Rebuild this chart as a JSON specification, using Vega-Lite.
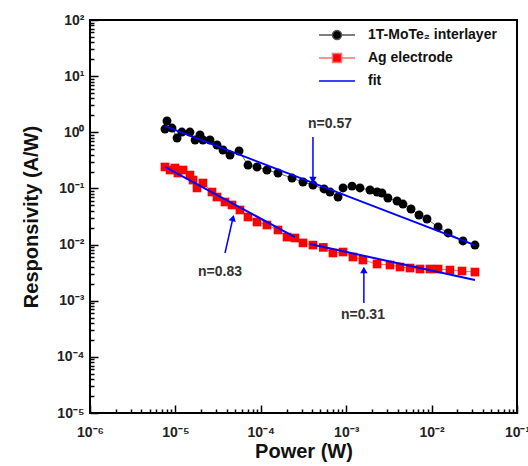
{
  "$schema": "https://vega.github.io/schema/vega-lite/v6.json",
  "width": 427,
  "height": 393,
  "autosize": {"type": "none"},
  "padding": {"left": 90, "top": 20, "right": 11, "bottom": 53},
  "background": "white",
  "config": {
    "view": {"stroke": "black", "strokeWidth": 2},
    "font": "Liberation Sans",
    "axis": {
      "domain": false, "tickColor": "black", "tickWidth": 1.5,
      "labelFont": "Liberation Sans", "labelFontWeight": "bold", "labelFontSize": 14, "labelColor": "#222",
      "titleFont": "Liberation Sans", "titleFontWeight": "bold", "titleFontSize": 20, "titleColor": "#111",
      "grid": false, "labelOverlap": false, "labelFlush": false
    }
  },
  "resolve": {"axis": {"x": "independent", "y": "independent"}},
  "datasets": {
    "meas": [
      {"series": "1T-MoTe₂ interlayer", "power": 7.55e-6, "resp": 1.14},
      {"series": "1T-MoTe₂ interlayer", "power": 7.97e-6, "resp": 1.59},
      {"series": "1T-MoTe₂ interlayer", "power": 9.12e-6, "resp": 1.19},
      {"series": "1T-MoTe₂ interlayer", "power": 1.045e-5, "resp": 0.791},
      {"series": "1T-MoTe₂ interlayer", "power": 1.19e-5, "resp": 1.01},
      {"series": "1T-MoTe₂ interlayer", "power": 1.48e-5, "resp": 1.01},
      {"series": "1T-MoTe₂ interlayer", "power": 1.70e-5, "resp": 0.728},
      {"series": "1T-MoTe₂ interlayer", "power": 1.94e-5, "resp": 0.895},
      {"series": "1T-MoTe₂ interlayer", "power": 2.10e-5, "resp": 0.728},
      {"series": "1T-MoTe₂ interlayer", "power": 2.54e-5, "resp": 0.728},
      {"series": "1T-MoTe₂ interlayer", "power": 3.07e-5, "resp": 0.593},
      {"series": "1T-MoTe₂ interlayer", "power": 3.61e-5, "resp": 0.483},
      {"series": "1T-MoTe₂ interlayer", "power": 4.36e-5, "resp": 0.394},
      {"series": "1T-MoTe₂ interlayer", "power": 5.56e-5, "resp": 0.464},
      {"series": "1T-MoTe₂ interlayer", "power": 7.08e-5, "resp": 0.261},
      {"series": "1T-MoTe₂ interlayer", "power": 9.03e-5, "resp": 0.241},
      {"series": "1T-MoTe₂ interlayer", "power": 1.18e-4, "resp": 0.213},
      {"series": "1T-MoTe₂ interlayer", "power": 1.59e-4, "resp": 0.188},
      {"series": "1T-MoTe₂ interlayer", "power": 2.32e-4, "resp": 0.153},
      {"series": "1T-MoTe₂ interlayer", "power": 3.12e-4, "resp": 0.130},
      {"series": "1T-MoTe₂ interlayer", "power": 4.08e-4, "resp": 0.115},
      {"series": "1T-MoTe₂ interlayer", "power": 5.5e-4, "resp": 0.098},
      {"series": "1T-MoTe₂ interlayer", "power": 6.46e-4, "resp": 0.0863},
      {"series": "1T-MoTe₂ interlayer", "power": 8.02e-4, "resp": 0.0703},
      {"series": "1T-MoTe₂ interlayer", "power": 9.18e-4, "resp": 0.102},
      {"series": "1T-MoTe₂ interlayer", "power": 1.17e-3, "resp": 0.110},
      {"series": "1T-MoTe₂ interlayer", "power": 1.45e-3, "resp": 0.102},
      {"series": "1T-MoTe₂ interlayer", "power": 1.90e-3, "resp": 0.0938},
      {"series": "1T-MoTe₂ interlayer", "power": 2.30e-3, "resp": 0.0863},
      {"series": "1T-MoTe₂ interlayer", "power": 2.62e-3, "resp": 0.0828},
      {"series": "1T-MoTe₂ interlayer", "power": 3.08e-3, "resp": 0.0675},
      {"series": "1T-MoTe₂ interlayer", "power": 3.94e-3, "resp": 0.0597},
      {"series": "1T-MoTe₂ interlayer", "power": 4.62e-3, "resp": 0.0527},
      {"series": "1T-MoTe₂ interlayer", "power": 5.74e-3, "resp": 0.0430},
      {"series": "1T-MoTe₂ interlayer", "power": 7.12e-3, "resp": 0.0336},
      {"series": "1T-MoTe₂ interlayer", "power": 8.83e-3, "resp": 0.0285},
      {"series": "1T-MoTe₂ interlayer", "power": 1.19e-2, "resp": 0.0206},
      {"series": "1T-MoTe₂ interlayer", "power": 1.56e-2, "resp": 0.0161},
      {"series": "1T-MoTe₂ interlayer", "power": 2.33e-2, "resp": 0.0116},
      {"series": "1T-MoTe₂ interlayer", "power": 3.22e-2, "resp": 0.0098},
      {"series": "Ag electrode", "power": 7.55e-6, "resp": 0.241},
      {"series": "Ag electrode", "power": 8.65e-6, "resp": 0.213},
      {"series": "Ag electrode", "power": 9.88e-6, "resp": 0.231},
      {"series": "Ag electrode", "power": 1.07e-5, "resp": 0.188},
      {"series": "Ag electrode", "power": 1.23e-5, "resp": 0.213},
      {"series": "Ag electrode", "power": 1.48e-5, "resp": 0.173},
      {"series": "Ag electrode", "power": 1.61e-5, "resp": 0.141},
      {"series": "Ag electrode", "power": 1.79e-5, "resp": 0.102},
      {"series": "Ag electrode", "power": 2.10e-5, "resp": 0.125},
      {"series": "Ag electrode", "power": 2.68e-5, "resp": 0.0863},
      {"series": "Ag electrode", "power": 3.07e-5, "resp": 0.0703},
      {"series": "Ag electrode", "power": 3.81e-5, "resp": 0.0573},
      {"series": "Ag electrode", "power": 4.60e-5, "resp": 0.0507},
      {"series": "Ag electrode", "power": 5.70e-5, "resp": 0.0413},
      {"series": "Ag electrode", "power": 7.08e-5, "resp": 0.0310},
      {"series": "Ag electrode", "power": 9.03e-5, "resp": 0.0252},
      {"series": "Ag electrode", "power": 1.18e-4, "resp": 0.0223},
      {"series": "Ag electrode", "power": 1.59e-4, "resp": 0.0182},
      {"series": "Ag electrode", "power": 2.03e-4, "resp": 0.0136},
      {"series": "Ag electrode", "power": 2.51e-4, "resp": 0.0131},
      {"series": "Ag electrode", "power": 3.12e-4, "resp": 0.0107},
      {"series": "Ag electrode", "power": 4.08e-4, "resp": 0.0098},
      {"series": "Ag electrode", "power": 5.4e-4, "resp": 0.0089},
      {"series": "Ag electrode", "power": 7.00e-4, "resp": 0.00708},
      {"series": "Ag electrode", "power": 9.18e-4, "resp": 0.00737},
      {"series": "Ag electrode", "power": 1.20e-3, "resp": 0.00600},
      {"series": "Ag electrode", "power": 1.57e-3, "resp": 0.00531},
      {"series": "Ag electrode", "power": 2.30e-3, "resp": 0.00451},
      {"series": "Ag electrode", "power": 3.26e-3, "resp": 0.00432},
      {"series": "Ag electrode", "power": 4.27e-3, "resp": 0.00398},
      {"series": "Ag electrode", "power": 5.59e-3, "resp": 0.00382},
      {"series": "Ag electrode", "power": 7.31e-3, "resp": 0.00367},
      {"series": "Ag electrode", "power": 9.57e-3, "resp": 0.00367},
      {"series": "Ag electrode", "power": 1.19e-2, "resp": 0.00367},
      {"series": "Ag electrode", "power": 1.64e-2, "resp": 0.00352},
      {"series": "Ag electrode", "power": 2.27e-2, "resp": 0.00338},
      {"series": "Ag electrode", "power": 3.22e-2, "resp": 0.00324}
    ],
    "fit": [
      {"seg": "a", "power": 7.55e-6, "resp": 1.29},
      {"seg": "a", "power": 3.22e-2, "resp": 0.0098},
      {"seg": "b", "power": 7.55e-6, "resp": 0.241},
      {"seg": "b", "power": 2.51e-4, "resp": 0.0136},
      {"seg": "c", "power": 3.77e-4, "resp": 0.0102},
      {"seg": "c", "power": 3.22e-2, "resp": 0.00234}
    ],
    "notes": [
      {"text": "n=0.57", "power": 6.46e-4, "resp": 1.41},
      {"text": "n=0.83", "power": 3.33e-5, "resp": 0.00324},
      {"text": "n=0.31", "power": 1.57e-3, "resp": 0.000556}
    ],
    "arrows": [
      {"id": "down", "p1": 4.08e-4, "r1": 0.824, "p2": 4.08e-4, "r2": 0.141},
      {"id": "slant", "p1": 3.81e-5, "r1": 0.00708, "p2": 4.72e-5, "r2": 0.0297},
      {"id": "up", "p1": 1.61e-3, "r1": 0.00091, "p2": 1.61e-3, "r2": 0.00352}
    ]
  },
  "layer": [
    {
      "data": {"name": "meas"},
      "transform": [{"filter": "datum.series === 'Ag electrode'"}],
      "mark": {"type": "line", "color": "#ff7070", "strokeWidth": 1},
      "encoding": {
        "x": {
          "field": "power", "type": "quantitative",
          "scale": {"type": "log", "domain": [1e-6, 0.1], "nice": false},
          "axis": {
            "orient": "bottom", "offset": -8, "tickSize": 8,
            "title": "Power (W)", "values": [1e-6, 1e-5, 1e-4, 1e-3, 1e-2, 1e-1], "titlePadding": 2, "labelPadding": 12,
            "labelExpr": "'10'+replace(replace(replace(replace(replace(replace(replace(replace(''+round(log(datum.value)/LN10),'-','⁻'),'0','⁰'),'1','¹'),'2','²'),'3','³'),'4','⁴'),'5','⁵'),'6','⁶')"
          }
        },
        "y": {
          "field": "resp", "type": "quantitative",
          "scale": {"type": "log", "domain": [1e-5, 100], "nice": false},
          "axis": {
            "orient": "left", "offset": -8, "tickSize": 8,
            "title": "Responsivity (A/W)", "values": [1e-5, 1e-4, 1e-3, 1e-2, 1e-1, 1, 10, 100], "titlePadding": 15, "labelPadding": 6,
            "labelExpr": "'10'+replace(replace(replace(replace(replace(replace(replace(replace(''+round(log(datum.value)/LN10),'-','⁻'),'0','⁰'),'1','¹'),'2','²'),'3','³'),'4','⁴'),'5','⁵'),'6','⁶')"
          }
        }
      }
    },
    {
      "data": {"name": "meas"},
      "transform": [{"filter": "datum.series !== 'Ag electrode'"}],
      "mark": {"type": "line", "color": "#666666", "strokeWidth": 1},
      "encoding": {
        "x": {
          "field": "power", "type": "quantitative",
          "axis": {
            "orient": "bottom", "title": null, "labels": false, "offset": -4, "tickSize": 4,
            "values": [2e-6,3e-6,4e-6,5e-6,6e-6,7e-6,8e-6,9e-6,2e-5,3e-5,4e-5,5e-5,6e-5,7e-5,8e-5,9e-5,2e-4,3e-4,4e-4,5e-4,6e-4,7e-4,8e-4,9e-4,2e-3,3e-3,4e-3,5e-3,6e-3,7e-3,8e-3,9e-3,2e-2,3e-2,4e-2,5e-2,6e-2,7e-2,8e-2,9e-2]
          }
        },
        "y": {
          "field": "resp", "type": "quantitative",
          "axis": {
            "orient": "left", "title": null, "labels": false, "offset": -4, "tickSize": 4,
            "values": [2e-5,3e-5,4e-5,5e-5,6e-5,7e-5,8e-5,9e-5,2e-4,3e-4,4e-4,5e-4,6e-4,7e-4,8e-4,9e-4,2e-3,3e-3,4e-3,5e-3,6e-3,7e-3,8e-3,9e-3,2e-2,3e-2,4e-2,5e-2,6e-2,7e-2,8e-2,9e-2,0.2,0.3,0.4,0.5,0.6,0.7,0.8,0.9,2,3,4,5,6,7,8,9,20,30,40,50,60,70,80,90]
          }
        }
      }
    },
    {
      "data": {"name": "meas"},
      "transform": [{"filter": "datum.series === 'Ag electrode'"}],
      "mark": {"type": "point", "shape": "square", "filled": true, "color": "#ff0000", "size": 75, "opacity": 1},
      "encoding": {"x": {"field": "power", "type": "quantitative", "axis": null}, "y": {"field": "resp", "type": "quantitative", "axis": null}}
    },
    {
      "data": {"name": "meas"},
      "transform": [{"filter": "datum.series !== 'Ag electrode'"}],
      "mark": {"type": "point", "shape": "circle", "filled": true, "color": "#000000", "size": 80, "opacity": 1},
      "encoding": {"x": {"field": "power", "type": "quantitative", "axis": null}, "y": {"field": "resp", "type": "quantitative", "axis": null}}
    },
    {
      "data": {"name": "fit"},
      "mark": {"type": "line", "color": "#0000ff", "strokeWidth": 2},
      "encoding": {"x": {"field": "power", "type": "quantitative", "axis": null}, "y": {"field": "resp", "type": "quantitative", "axis": null}, "detail": {"field": "seg"}}
    },
    {
      "data": {"name": "arrows"},
      "mark": {"type": "rule", "color": "#0000ff", "strokeWidth": 1.5},
      "encoding": {
        "x": {"field": "p1", "type": "quantitative", "axis": null},
        "y": {"field": "r1", "type": "quantitative", "axis": null},
        "x2": {"field": "p2"},
        "y2": {"field": "r2"}
      }
    },
    {
      "data": {"name": "arrows"},
      "transform": [{"filter": "datum.id === 'down'"}],
      "mark": {"type": "point", "shape": "triangle-down", "filled": true, "color": "#0000ff", "size": 55, "opacity": 1},
      "encoding": {"x": {"field": "p2", "type": "quantitative", "axis": null}, "y": {"field": "r2", "type": "quantitative", "axis": null}}
    },
    {
      "data": {"name": "arrows"},
      "transform": [{"filter": "datum.id === 'slant'"}],
      "mark": {"type": "point", "shape": "triangle-up", "filled": true, "color": "#0000ff", "size": 55, "opacity": 1, "angle": 14},
      "encoding": {"x": {"field": "p2", "type": "quantitative", "axis": null}, "y": {"field": "r2", "type": "quantitative", "axis": null}}
    },
    {
      "data": {"name": "arrows"},
      "transform": [{"filter": "datum.id === 'up'"}],
      "mark": {"type": "point", "shape": "triangle-up", "filled": true, "color": "#0000ff", "size": 55, "opacity": 1},
      "encoding": {"x": {"field": "p2", "type": "quantitative", "axis": null}, "y": {"field": "r2", "type": "quantitative", "axis": null}}
    },
    {
      "data": {"name": "notes"},
      "mark": {"type": "text", "font": "Liberation Sans", "fontWeight": "bold", "fontSize": 14, "color": "#333333"},
      "encoding": {"x": {"field": "power", "type": "quantitative", "axis": null}, "y": {"field": "resp", "type": "quantitative", "axis": null}, "text": {"field": "text"}}
    },
    {
      "data": {"name": "meas"},
      "transform": [{"filter": "false"}],
      "mark": {"type": "point", "filled": true, "opacity": 1},
      "encoding": {
        "x": {"field": "power", "type": "quantitative", "axis": null},
        "y": {"field": "resp", "type": "quantitative", "axis": null},
        "fill": {
          "field": "series", "type": "nominal",
          "scale": {"domain": ["1T-MoTe₂ interlayer", "Ag electrode", "fit"], "range": ["#000000", "#ff0000", "#0000ff"]},
          "legend": {
            "title": null, "orient": "none", "legendX": 236, "legendY": 4,
            "labelFont": "Liberation Sans", "labelFontWeight": "bold", "labelFontSize": 14, "labelColor": "#111",
            "symbolSize": 400, "symbolStrokeWidth": 1.5, "labelOffset": 20, "rowPadding": 4, "labelLimit": 300
          }
        },
        "stroke": {
          "field": "series", "type": "nominal",
          "scale": {"domain": ["1T-MoTe₂ interlayer", "Ag electrode", "fit"], "range": ["#555555", "#ff7070", "#0000ff"]},
          "legend": {
            "title": null, "orient": "none", "legendX": 236, "legendY": 4,
            "labelFont": "Liberation Sans", "labelFontWeight": "bold", "labelFontSize": 14, "labelColor": "#111",
            "symbolSize": 400, "symbolStrokeWidth": 1.5, "labelOffset": 20, "rowPadding": 4, "labelLimit": 300
          }
        },
        "shape": {
          "field": "series", "type": "nominal",
          "scale": {"domain": ["1T-MoTe₂ interlayer", "Ag electrode", "fit"], "range": [
            "M-1.8,0H-0.45M0.45,0H1.8M0.45,0A0.45,0.45 0 1 1 -0.45,0A0.45,0.45 0 1 1 0.45,0Z",
            "M-1.8,0H-0.45M0.45,0H1.8M-0.45,-0.45H0.45V0.45H-0.45Z",
            "M-1.8,0H1.8"
          ]},
          "legend": {
            "title": null, "orient": "none", "legendX": 236, "legendY": 4,
            "labelFont": "Liberation Sans", "labelFontWeight": "bold", "labelFontSize": 14, "labelColor": "#111",
            "symbolSize": 400, "symbolStrokeWidth": 1.5, "labelOffset": 20, "rowPadding": 4, "labelLimit": 300
          }
        }
      }
    }
  ]
}
